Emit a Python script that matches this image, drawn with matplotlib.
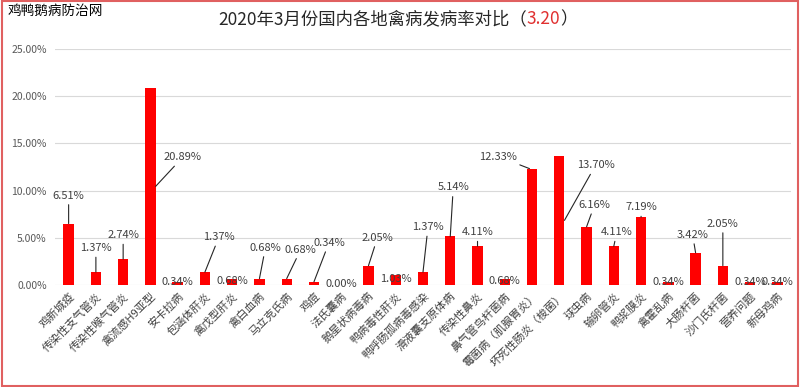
import matplotlib
matplotlib.use("Agg")
import matplotlib.pyplot as plt
from matplotlib.patches import Rectangle
from matplotlib.ticker import FuncFormatter

plt.rcParams['font.family'] = ['Noto Sans CJK SC', 'DejaVu Sans']

# data
diseases = ["鸡新城疫", "传染性支气管炎", "传染性喉气管炎", "禽流感H9亚型", "安卡拉病",
            "包涵体肝炎", "禽戊型肝炎", "禽白血病", "马立克氏病", "鸡痘",
            "法氏囊病", "鹅星状病毒病", "鸭病毒性肝炎", "鸭呼肠孤病毒感染", "滑液囊支原体病",
            "传染性鼻炎", "鼻气管鸟杆菌病", "霉菌病（肌腺胃炎）", "坏死性肠炎（梭菌）", "球虫病",
            "输卵管炎", "鸭浆膜炎", "禽霍乱病", "大肠杆菌", "沙门氏杆菌",
            "营养问题", "新母鸡病"]
rates = [6.51, 1.37, 2.74, 20.89, 0.34,
         1.37, 0.68, 0.68, 0.68, 0.34,
         0.00, 2.05, 1.03, 1.37, 5.14,
         4.11, 0.68, 12.33, 13.70, 6.16,
         4.11, 7.19, 0.34, 3.42, 2.05,
         0.34, 0.34]

# label placement: (anchor, dx, dy) in pixels, 'in' = centred on the bar, no leader
label_pos = [("top", 0, 28), ("top", 0, 24), ("top", 0, 24), ("side", 27, 29), ("in", 0, 0),
             ("top", 14, 35), ("in", 0, 0), ("top", 6, 31), ("top", 14, 29), ("top", 15, 39),
             ("in", 0, 0), ("top", 9, 28), ("in", 0, 0), ("top", 5, 45), ("top", 3, 49),
             ("top", 0, 14), ("in", 0, 0), ("left", -31, 12), ("side", 31, 55), ("top", 8, 22),
             ("top", 3, 14), ("top", 0, 10), ("in", 0, 0), ("top", -3, 18), ("top", 0, 42),
             ("in", 0, 0), ("in", 0, 0)]

bar_w = 0.38
red = "#ff0000"
txt_col = "#404040"

fig = plt.figure(figsize=(8, 3.87), dpi=100)
ax = fig.add_axes([55 / 800, 1 - 285 / 387, 736 / 800, 236 / 387])

x = list(range(len(diseases)))
ax.bar(x, rates, width=bar_w, color=red, zorder=3)

ax.set_xlim(-0.5, len(diseases) - 0.5)
ax.set_ylim(0, 25)
ax.set_yticks([0, 5, 10, 15, 20, 25])
ax.yaxis.set_major_formatter(FuncFormatter(lambda v, p: "%.2f%%" % v))
ax.grid(axis='y', color="#d9d9d9", lw=0.8, zorder=0)
for s in ax.spines.values():
    s.set_visible(False)
ax.tick_params(axis='both', length=0, colors="#595959", labelsize=7.5)
ax.tick_params(axis='y', pad=6)
ax.tick_params(axis='x', pad=4)
ax.set_xticks(x)
ax.set_xticklabels(diseases, rotation=45, ha='right', rotation_mode='anchor', fontsize=8, color="#404040")

for i, v in enumerate(rates):
    mode, dx, dy = label_pos[i]
    lab = "%.2f%%" % v
    if mode == "in":
        ax.text(i, v / 2 + 0.1, lab, ha='center', va='center', fontsize=8, color=txt_col, zorder=4)
        continue
    if mode == "top":
        xy = (i, v)
    elif mode == "side":
        xy = (i + bar_w / 2, v / 2)
    else:
        xy = (i - bar_w / 4, v)
    ax.annotate(lab, xy=xy, xytext=(dx, dy), textcoords='offset pixels',
                ha='center', va='center', fontsize=8, color=txt_col, zorder=4,
                arrowprops=dict(arrowstyle='-', color="#262626", lw=0.8,
                                shrinkA=1, shrinkB=0))

# title with red date part
fig.canvas.draw()
r = fig.canvas.get_renderer()
parts = [("2020年3月份国内各地禽病发病率对比（", "#262626"), ("3.20", "#e03030"), ("）", "#262626")]
texts = []
widths = []
for s, c in parts:
    t = fig.text(0, 0, s, fontsize=12.5, color=c, va='center', ha='left')
    texts.append(t)
    widths.append(t.get_window_extent(r).width)
xpos = 398 - sum(widths) / 2
for t, w in zip(texts, widths):
    t.set_position((xpos / 800, 1 - 19 / 387))
    xpos += w

fig.text(8 / 800, 1 - 11 / 387, "鸡鸭鹅病防治网", fontsize=9.8, color="black", va='center', ha='left',
         bbox=dict(facecolor='white', edgecolor='none', pad=1))

fig.patches.append(Rectangle((0.002, 0.003), 0.996, 0.994, transform=fig.transFigure,
                             fill=False, edgecolor="#e06060", lw=1.5, zorder=0))

fig.savefig("out.png", dpi=100)
